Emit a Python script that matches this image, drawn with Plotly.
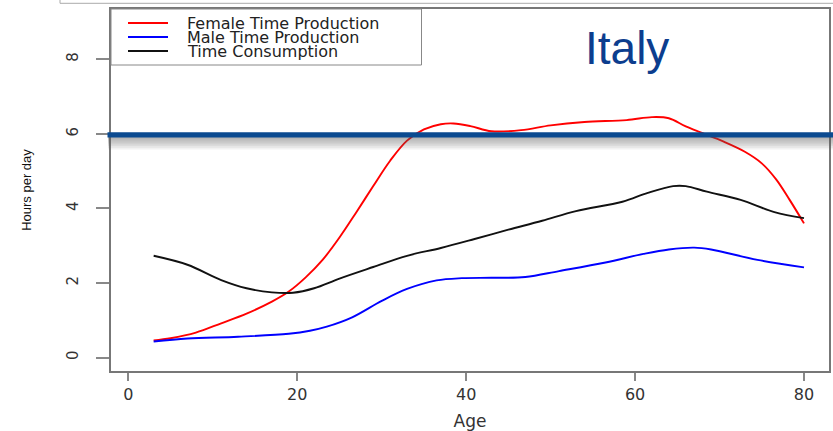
import plotly.graph_objects as go

# Average hours per day by age (Italy)
female_age = [3, 5, 8, 11, 14, 17, 19, 21, 23, 25, 27, 29, 31, 33, 35, 37, 38.5,
              40.5, 43, 46.5, 50, 54, 59, 62, 64, 66, 68, 70.5, 73, 75, 76.7, 78.3, 80]
female_prod = [0.46, 0.52, 0.67, 0.92, 1.18, 1.50, 1.77, 2.15, 2.62, 3.22, 3.90, 4.60,
               5.28, 5.82, 6.12, 6.26, 6.28, 6.21, 6.07, 6.10, 6.23, 6.32, 6.37, 6.45,
               6.42, 6.20, 6.02, 5.79, 5.52, 5.21, 4.78, 4.23, 3.60]

male_age = [3, 7, 13, 19, 21.5, 23.5, 26.5, 30, 33, 36.5, 39.5, 43, 47, 51, 56.5,
            61, 64, 67, 69, 74.5, 80]
male_prod = [0.43, 0.51, 0.56, 0.64, 0.72, 0.83, 1.08, 1.52, 1.84, 2.07, 2.13, 2.14,
             2.16, 2.32, 2.55, 2.78, 2.90, 2.95, 2.90, 2.62, 2.42]

cons_age = [3, 7, 11, 14, 17, 19.5, 22, 25, 29, 33, 37, 41, 45, 49, 53, 58.5, 61.5,
            64.5, 66, 68.5, 72.5, 76.5, 80]
consumption = [2.73, 2.49, 2.08, 1.86, 1.75, 1.74, 1.86, 2.12, 2.43, 2.73, 2.94, 3.18,
               3.43, 3.67, 3.93, 4.18, 4.42, 4.60, 4.60, 4.45, 4.23, 3.90, 3.74]

series_names = ["Female Time Production", "Male Time Production", "Time Consumption"]
series_colors = ["#ff0000", "#0000ff", "#111111"]

x_ticks = [0, 20, 40, 60, 80]
y_ticks = [0, 2, 4, 6, 8]

W, H = 833, 431
ML, MR, MT, MB = 111, 4, 9, 60
PW, PH = W - ML - MR, H - MT - MB


def px_x(px):
    return (px - ML) / PW


def px_y(py):
    return (H - MB - py) / PH


fig = go.Figure()
for xs, ys, name, col in zip([female_age, male_age, cons_age],
                             [female_prod, male_prod, consumption],
                             series_names, series_colors):
    fig.add_trace(go.Scatter(x=xs, y=ys, name=name, mode="lines",
                             line=dict(color=col, width=1.9, shape="spline", smoothing=1.0),
                             showlegend=False))

shapes = []
annotations = []

# legend box drawn in the top-left corner of the plot
shapes.append(dict(type="rect", xref="paper", yref="paper",
                   x0=px_x(111), x1=px_x(421.5), y0=px_y(65), y1=px_y(9),
                   line=dict(color="#888888", width=1), fillcolor="white", layer="above"))
for i, (name, col) in enumerate(zip(series_names, series_colors)):
    yy = 23 + 14 * i
    shapes.append(dict(type="line", xref="paper", yref="paper",
                       x0=px_x(128), x1=px_x(168), y0=px_y(yy), y1=px_y(yy),
                       line=dict(color=col, width=2), layer="above"))
    annotations.append(dict(text=name, xref="paper", yref="paper",
                            x=px_x(186), y=px_y(yy), xanchor="left", yanchor="middle",
                            showarrow=False, borderpad=0,
                            font=dict(family="DejaVu Sans", size=16, color="#222222")))

# thin frame line along the top edge
shapes.append(dict(type="line", xref="paper", yref="paper",
                   x0=px_x(60), x1=px_x(840), y0=px_y(3.3), y1=px_y(3.3),
                   line=dict(color="#aaaaaa", width=1)))
shapes.append(dict(type="line", xref="paper", yref="paper",
                   x0=px_x(60), x1=px_x(60), y0=px_y(0), y1=px_y(3.3),
                   line=dict(color="#aaaaaa", width=1)))

# soft shadow under the highlight bar
for k in range(1, 8):
    shapes.append(dict(type="rect", xref="paper", yref="paper",
                       x0=px_x(108), x1=px_x(840),
                       y0=px_y(137 + 1.8 * k), y1=px_y(137),
                       line=dict(width=0), fillcolor="rgba(90,90,90,0.08)", layer="above"))
# highlight bar
shapes.append(dict(type="rect", xref="paper", yref="paper",
                   x0=px_x(107.5), x1=px_x(840), y0=px_y(137.4), y1=px_y(132.3),
                   line=dict(width=0), fillcolor="#0b4a90", layer="above"))

annotations.append(dict(text="Italy", xref="paper", yref="paper",
                        x=px_x(626.5), y=px_y(48), xanchor="center", yanchor="middle",
                        showarrow=False,
                        font=dict(family="Liberation Sans", size=46, color="#0c3d8e")))

fig.update_layout(
    width=W, height=H,
    margin=dict(l=ML, r=MR, t=MT, b=MB, pad=0),
    paper_bgcolor="white", plot_bgcolor="white",
    shapes=shapes, annotations=annotations,
    showlegend=False,
    xaxis=dict(range=[-2.05, 82.96], tickvals=x_ticks, ticks="outside", ticklen=8,
               tickwidth=1.5, tickcolor="#888888", showline=True, mirror=True,
               linecolor="#777777", linewidth=1.5, showgrid=False, zeroline=False,
               tickfont=dict(family="DejaVu Sans", size=16, color="#333333"),
               ticklabelstandoff=0, automargin=False,
               title=dict(text="Age", standoff=12,
                          font=dict(family="DejaVu Sans", size=17, color="#333333"))),
    yaxis=dict(range=[-0.36, 9.35], tickvals=y_ticks, ticks="outside", ticklen=13,
               tickwidth=1.5, tickcolor="#888888", showline=True, mirror=True,
               linecolor="#777777", linewidth=1.5, showgrid=False, zeroline=False,
               tickangle=-90,
               tickfont=dict(family="DejaVu Sans", size=15, color="#333333"),
               ticklabelstandoff=12, automargin=False,
               title=dict(text="Hours per day", standoff=30,
                          font=dict(family="Liberation Sans", size=13, color="#111111"))),
)

fig.write_html("out.html")
